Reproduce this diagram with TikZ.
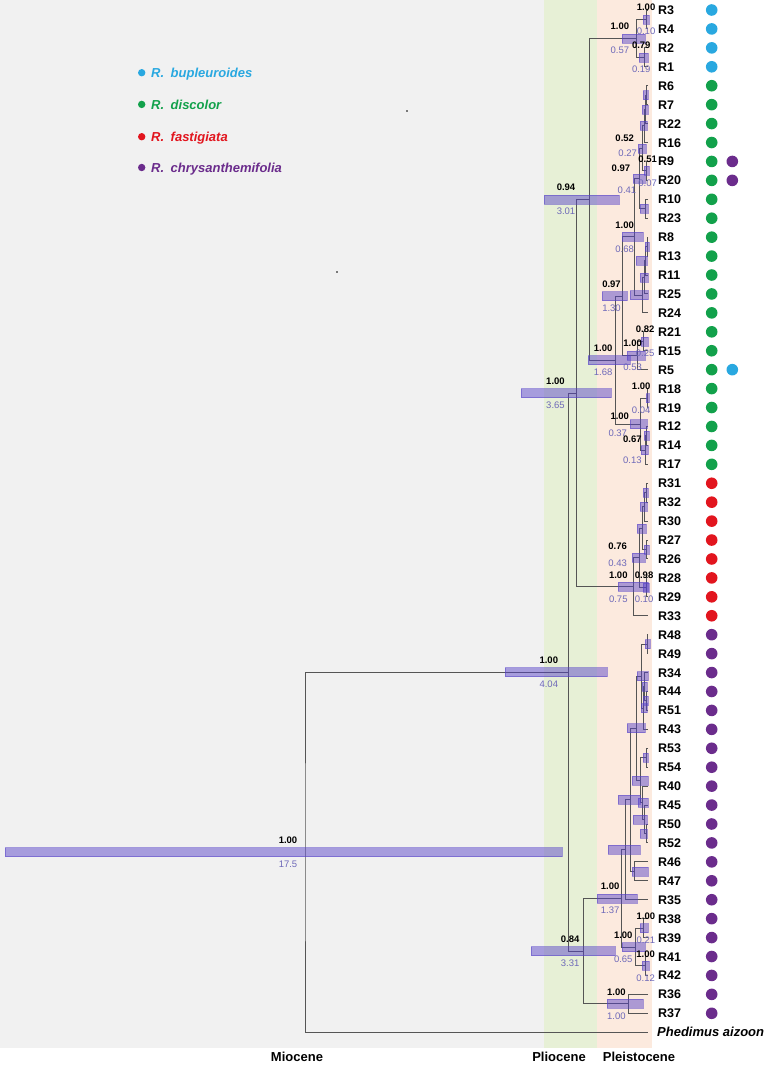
\documentclass[tikz,border=0pt]{standalone}
\usepackage{fontspec}
\setmainfont{Liberation Sans}
\usepackage{xcolor}
\usepackage{tikz}
\usetikzlibrary{calc}

\definecolor{bup}{RGB}{41,168,224}
\definecolor{dis}{RGB}{18,161,75}
\definecolor{fas}{RGB}{226,21,30}
\definecolor{chr}{RGB}{107,44,140}
\definecolor{miobg}{RGB}{241,241,241}
\definecolor{pliobg}{RGB}{231,240,214}
\definecolor{pleibg}{RGB}{252,234,222}
\definecolor{hpdcol}{RGB}{85,65,200}
\definecolor{agecol}{RGB}{110,105,185}
\definecolor{branchcol}{RGB}{85,85,85}

% ancestor: name, age in Ma, two children
\newcommand{\anc}[4]{%
  \path let \p1=(#3), \p2=(#4) in coordinate (#1) at ({(648-19.6*#2)*1pt},{0.5*\y1+0.5*\y2});
  \draw[branch] (#3) -| (#1) |- (#4);}
% 95% HPD bar: from x, to x, ancestor
\newcommand{\hpd}[3]{%
  \path[hpd] let \p1=(#3) in ({#1*1pt},{\y1-4.5pt}) rectangle ({#2*1pt},{\y1+4.5pt});}
% posterior above, age below
\newcommand{\lbl}[4]{%
  \node[pp] (p#1) at ([shift={(#2,-12)}]#1) {#3};
  \node[age] (g#1) at ([shift={(#2,12)}]#1) {#4};}

\begin{document}
\begin{tikzpicture}[x=1pt,y=-1pt,
  branch/.style={draw=branchcol,line width=1pt},
  hpd/.style={fill=hpdcol,fill opacity=0.48,draw=hpdcol,draw opacity=0.5,line width=0.4pt}]

  \tikzstyle{tip} = [anchor=base west,inner sep=0pt,font=\fontsize{12.5}{14}\selectfont\bfseries]
  \tikzstyle{pp} = [inner sep=0pt,font=\fontsize{9.5}{11}\selectfont\bfseries]
  \tikzstyle{age} = [inner sep=0pt,text=agecol,font=\fontsize{9.5}{11}\selectfont]
  \tikzstyle{period} = [inner sep=0pt,font=\fontsize{13}{15}\selectfont\bfseries]
  \tikzstyle{legend} = [anchor=base west,inner sep=0pt,font=\fontsize{13}{15}\selectfont\bfseries\itshape]

  \useasboundingbox (0,0) rectangle (770,1066);
  \fill[white] (0,0) rectangle (770,1066);
  \fill[miobg] (0,0) rectangle (543.5,1048);
  \fill[pliobg] (543.5,0) rectangle (597.4,1048);
  \fill[pleibg] (597.4,0) rectangle (652,1048);
  \fill (407,111) circle[radius=0.8pt];
  \fill (337,272) circle[radius=0.8pt];

  \foreach \t [count=\i from 0] in {R3,R4,R2,R1,R6,R7,R22,R16,R9,R20,R10,R23,R8,R13,R11,
      R25,R24,R21,R15,R5,R18,R19,R12,R14,R17,R31,R32,R30,R27,R26,R28,R29,R33,R48,R49,
      R34,R44,R51,R43,R53,R54,R40,R45,R50,R52,R46,R47,R35,R38,R39,R41,R42,R36,R37}
  {
    \coordinate (\t) at (648,{10+18.93*\i});
    \node[tip] (l\t) at (658,{14.5+18.93*\i}) {\t};
  }
  \coordinate (Phed) at (648,1032.2);
  \node[tip,font=\fontsize{13}{15}\selectfont\bfseries\itshape] (lPhed) at (657,1036.8) {Phedimus aizoon};

  \anc{a1}{0.10}{R3}{R4}
  \anc{a2}{0.19}{R2}{R1}
  \anc{a3}{0.57}{a1}{a2}

  \anc{d1}{0.06}{R6}{R7}
  \anc{d2}{0.12}{d1}{R22}
  \anc{d3}{0.20}{d2}{R16}
  \anc{d4}{0.07}{R9}{R20}
  \anc{d5}{0.27}{d3}{d4}
  \anc{d6}{0.12}{R10}{R23}
  \anc{d7}{0.41}{d5}{d6}
  \anc{d8}{0.05}{R8}{R13}
  \anc{d9}{0.15}{d8}{R11}
  \anc{d10}{0.20}{d9}{R25}
  \anc{d11}{0.30}{d10}{R24}
  \anc{d12}{0.68}{d7}{d11}
  \anc{d13}{0.25}{R21}{R15}
  \anc{d14}{0.53}{d13}{R5}
  \anc{d15}{1.30}{d12}{d14}
  \anc{d16}{0.04}{R18}{R19}
  \anc{d17}{0.06}{R12}{R14}
  \anc{d18}{0.13}{d17}{R17}
  \anc{d19}{0.37}{d16}{d18}
  \anc{d20}{1.68}{d15}{d19}
  \anc{c1}{3.01}{a3}{d20}

  \anc{f1}{0.10}{R31}{R32}
  \anc{f2}{0.18}{f1}{R30}
  \anc{f3}{0.07}{R27}{R26}
  \anc{f4}{0.28}{f2}{f3}
  \anc{f5}{0.10}{R28}{R29}
  \anc{f6}{0.43}{f4}{f5}
  \anc{f7}{0.75}{f6}{R33}
  \anc{c2}{3.65}{c1}{f7}

  \anc{h1}{0.05}{R48}{R49}
  \anc{h2}{0.10}{R44}{R51}
  \anc{h3}{0.18}{R34}{h2}
  \anc{h4}{0.25}{h3}{R43}
  \anc{h5}{0.32}{h1}{h4}
  \anc{h6}{0.10}{R53}{R54}
  \anc{h7}{0.08}{R50}{R52}
  \anc{h8}{0.20}{R45}{h7}
  \anc{h9}{0.28}{R40}{h8}
  \anc{h10}{0.40}{h6}{h9}
  \anc{h11}{0.60}{h5}{h10}
  \anc{h12}{0.70}{R46}{R47}
  \anc{h13}{0.90}{h11}{h12}
  \anc{h14}{1.15}{h13}{R35}
  \anc{h15}{0.21}{R38}{R39}
  \anc{h16}{0.12}{R41}{R42}
  \anc{h17}{0.65}{h15}{h16}
  \anc{h18}{1.37}{h14}{h17}
  \anc{h19}{1.00}{R36}{R37}
  \anc{c3}{3.31}{h18}{h19}
  \anc{c4}{4.04}{c2}{c3}
  \anc{root}{17.5}{c4}{Phed}

  \hpd{5}{562}{root}
  \hpd{505}{607}{c4}
  \hpd{521}{611}{c2}
  \hpd{544}{619}{c1}
  \hpd{531}{615}{c3}
  \hpd{588}{630}{d20}
  \hpd{602}{627}{d15}
  \hpd{622}{643}{d12}
  \hpd{633}{645}{d7}
  \hpd{638}{646}{d5}
  \hpd{644}{649}{d4}
  \hpd{640}{647}{d3}
  \hpd{642}{648}{d2}
  \hpd{643}{648}{d1}
  \hpd{640}{648}{d6}
  \hpd{630}{648}{d11}
  \hpd{640}{648}{d10}
  \hpd{636}{647}{d9}
  \hpd{645}{649}{d8}
  \hpd{641}{648}{d13}
  \hpd{627}{645}{d14}
  \hpd{630}{647}{d19}
  \hpd{646}{649}{d16}
  \hpd{644}{649}{d17}
  \hpd{641}{648}{d18}
  \hpd{622}{645}{a3}
  \hpd{643}{649}{a1}
  \hpd{639}{648}{a2}
  \hpd{618}{648}{f7}
  \hpd{632}{645}{f6}
  \hpd{643}{649}{f5}
  \hpd{637}{646}{f4}
  \hpd{640}{647}{f2}
  \hpd{643}{648}{f1}
  \hpd{644}{649}{f3}
  \hpd{597}{637}{h18}
  \hpd{608}{640}{h14}
  \hpd{618}{640}{h13}
  \hpd{627}{645}{h11}
  \hpd{637}{648}{h5}
  \hpd{645}{650}{h1}
  \hpd{642}{647}{h3}
  \hpd{643}{648}{h2}
  \hpd{641}{647}{h4}
  \hpd{643}{648}{h6}
  \hpd{632}{648}{h10}
  \hpd{638}{648}{h9}
  \hpd{633}{647}{h8}
  \hpd{640}{647}{h7}
  \hpd{632}{648}{h12}
  \hpd{622}{645}{h17}
  \hpd{640}{648}{h15}
  \hpd{642}{649}{h16}
  \hpd{607}{643}{h19}

  \lbl{root}{-17}{1.00}{17.5}
  \lbl{c4}{-20}{1.00}{4.04}
  \lbl{c2}{-21}{1.00}{3.65}
  \lbl{c1}{-23}{0.94}{3.01}
  \lbl{c3}{-13}{0.84}{3.31}
  \lbl{d20}{-12}{1.00}{1.68}
  \lbl{d15}{-11}{0.97}{1.30}
  \lbl{d12}{-10}{1.00}{0.68}
  \lbl{d4}{1}{0.51}{0.07}
  \lbl{a3}{-17}{1.00}{0.57}
  \lbl{a1}{0}{1.00}{0.10}
  \lbl{a2}{-3}{0.79}{0.19}
  \lbl{d13}{2}{0.82}{0.25}
  \lbl{d14}{-5}{1.00}{0.53}
  \lbl{d16}{-6}{1.00}{0.04}
  \lbl{f7}{-15}{1.00}{0.75}
  \lbl{f5}{-2}{0.98}{0.10}
  \lbl{h18}{-11}{1.00}{1.37}
  \lbl{h17}{-12}{1.00}{0.65}
  \lbl{h15}{2}{1.00}{0.21}
  \lbl{h16}{0}{1.00}{0.12}
  \lbl{h19}{-12}{1.00}{1.00}
  \node[pp] (pd5) at ([shift={(-18,-10)}]d5) {0.52};
  \node[age] (gd5) at ([shift={(-15,5)}]d5) {0.27};
  \node[pp] (pd7) at ([shift={(-19,-10)}]d7) {0.97};
  \node[age] (gd7) at ([shift={(-13,12)}]d7) {0.41};
  \node[pp] (pd19) at ([shift={(-21,-8)}]d19) {1.00};
  \node[age] (gd19) at ([shift={(-23,9)}]d19) {0.37};
  \node[pp] (pd18) at ([shift={(-13,-11)}]d18) {0.67};
  \node[age] (gd18) at ([shift={(-13,10)}]d18) {0.13};
  \node[pp] (pf6) at ([shift={(-22,-12)}]f6) {0.76};
  \node[age] (gf6) at ([shift={(-22,5)}]f6) {0.43};

  \foreach \t in {R3,R4,R2,R1}
    \fill[bup] ([xshift=63.7pt]\t) circle[radius=5.8pt];
  \foreach \t in {R6,R7,R22,R16,R9,R20,R10,R23,R8,R13,R11,R25,R24,R21,R15,R5,R18,R19,R12,R14,R17}
    \fill[dis] ([xshift=63.7pt]\t) circle[radius=5.8pt];
  \foreach \t in {R31,R32,R30,R27,R26,R28,R29,R33}
    \fill[fas] ([xshift=63.7pt]\t) circle[radius=5.8pt];
  \foreach \t in {R48,R49,R34,R44,R51,R43,R53,R54,R40,R45,R50,R52,R46,R47,R35,R38,R39,R41,R42,R36,R37}
    \fill[chr] ([xshift=63.7pt]\t) circle[radius=5.8pt];
  \fill[chr] ([xshift=84.3pt]R9) circle[radius=5.8pt];
  \fill[chr] ([xshift=84.3pt]R20) circle[radius=5.8pt];
  \fill[bup] ([xshift=84.3pt]R5) circle[radius=5.8pt];

  \fill[bup] (141.7,72.7) circle[radius=3.7pt];
  \fill[dis] (141.7,104.4) circle[radius=3.7pt];
  \fill[fas] (141.7,136.7) circle[radius=3.7pt];
  \fill[chr] (141.7,167.5) circle[radius=3.7pt];
  \node[legend,text=bup] (lbup) at (151,77.3) {R.\enspace bupleuroides};
  \node[legend,text=dis] (ldis) at (151,109) {R.\enspace discolor};
  \node[legend,text=fas] (lfas) at (151,141.3) {R.\enspace fastigiata};
  \node[legend,text=chr] (lchr) at (151,172.1) {R.\enspace chrysanthemifolia};

  \node[period] (mio) at (297,1057) {Miocene};
  \node[period] (plio) at (559,1057) {Pliocene};
  \node[period] (plei) at (639,1057) {Pleistocene};
\end{tikzpicture}
\end{document}
